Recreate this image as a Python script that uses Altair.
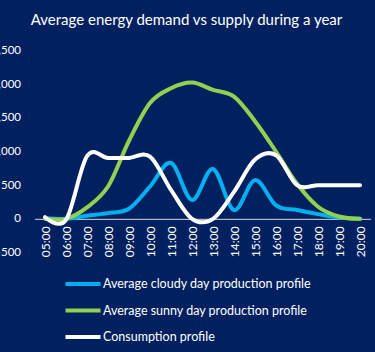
import altair as alt
import pandas as pd

hours = ["05:00", "06:00", "07:00", "08:00", "09:00", "10:00", "11:00", "12:00",
         "13:00", "14:00", "15:00", "16:00", "17:00", "18:00", "19:00", "20:00"]
cloudy = [10, 0, 45, 85, 150, 480, 830, 280, 740, 130, 575, 200, 130, 70, 20, 0]
sunny = [0, 0, 170, 480, 1160, 1720, 1940, 2025, 1915, 1815, 1450, 1000, 520, 180, 35, 0]
consumption = [25, -15, 930, 905, 905, 925, 430, 0, 0, 400, 880, 945, 500, 500, 500, 500]

series_names = ["Average cloudy day production profile",
                "Average sunny day production profile",
                "Consumption profile"]
series_colors = ["#00B0F0", "#92D050", "#FFFFFF"]

rows = []
for name, vals in zip(series_names, [cloudy, sunny, consumption]):
    for h, v in zip(hours, vals):
        rows.append({"hour": h, "value": v, "series": name})
df = pd.DataFrame(rows)

FONT = "Lato"
W, H = 336, 202
unit_px = H / 6.0  # pixels per 500

chart = alt.Chart(df).mark_line(
    interpolate="cardinal", strokeWidth=4, strokeCap="round", strokeJoin="round"
).encode(
    x=alt.X("hour:O", sort=hours,
            scale=alt.Scale(type="point", padding=0.5),
            axis=alt.Axis(title=None, labelAngle=270, labelColor="white",
                          labelFont=FONT, labelFontSize=12, ticks=False,
                          labelPadding=7, domainColor="#D9D9D9", domainWidth=1,
                          offset=-unit_px, grid=False)),
    y=alt.Y("value:Q", scale=alt.Scale(domain=[-500, 2500], nice=False),
            axis=alt.Axis(title=None, values=[-500, 0, 500, 1000, 1500, 2000, 2500],
                          format=",d", labelColor="white", labelFont=FONT,
                          labelFontSize=11.5, ticks=False, domain=False,
                          grid=False, labelPadding=14)),
    color=alt.Color("series:N",
                    scale=alt.Scale(domain=series_names, range=series_colors),
                    legend=alt.Legend(title=None, orient="none",
                                      legendX=39.5, legendY=224.5,
                                      direction="vertical",
                                      symbolType="M-2.5,0H2.5",
                                      symbolSize=196, symbolStrokeWidth=4,
                                      labelOffset=11, rowPadding=9.5,
                                      labelColor="white", labelFont=FONT,
                                      labelFontSize=12.5, padding=0,
                                      labelLimit=400)),
    order=alt.Order("series:N"),
).properties(
    width=W, height=H,
    background="#002060",
    padding={"left": 34.5, "top": 50.5, "right": 4.5, "bottom": 99.5},
    autosize=alt.AutoSizeParams(type="none"),
    title=alt.TitleParams("Average energy demand vs supply during a year",
                          color="white", font=FONT, fontSize=15,
                          fontWeight="normal", anchor="middle", dx=-16,
                          offset=17),
).configure_view(stroke=None)

chart.save("out.html", embed_options={"renderer": "svg", "actions": False})
